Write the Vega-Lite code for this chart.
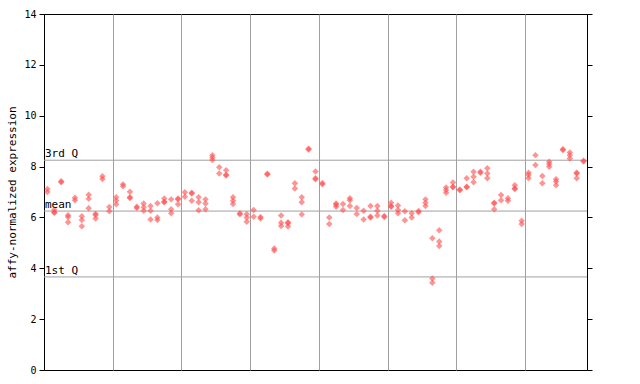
{
  "$schema": "https://vega.github.io/schema/vega-lite/v6.json",
  "width": 543,
  "height": 356,
  "autosize": "none",
  "padding": {"left": 44, "top": 14, "right": 53, "bottom": 14},
  "background": "white",
  "config": {
    "view": {"stroke": "black", "strokeWidth": 1},
    "font": "DejaVu Sans Mono",
    "axis": {"labelFont": "DejaVu Sans Mono", "titleFont": "DejaVu Sans Mono", "labelColor": "black", "titleColor": "black", "domainColor": "black", "tickColor": "black"}
  },
  "datasets": {
    "q": [
      {"label": "3rd Q", "v": 8.25},
      {"label": "mean", "v": 6.25},
      {"label": "1st Q", "v": 3.66}
    ]
  },
  "resolve": {"axis": {"y": "independent"}},
  "layer": [
    {
      "data": {"name": "q"},
      "mark": {"type": "rule", "color": "#a0a0a0", "strokeWidth": 1},
      "encoding": {
        "y": {"field": "v", "type": "quantitative", "scale": {"domain": [0, 14], "nice": false, "zero": false},
          "axis": {"orient": "right", "labels": false, "title": null, "grid": false, "ticks": true, "tickSize": 5, "values": [0, 2, 4, 6, 8, 10, 12, 14], "domain": true}}
      }
    },
    {
      "data": {"values": [
        {"s":0,"v":7.12},{"s":0,"v":7.0},
        {"s":1,"v":6.3},{"s":1,"v":6.18},{"s":1,"v":6.2},
        {"s":2,"v":7.42},{"s":2,"v":7.38},
        {"s":3,"v":6.09},{"s":3,"v":6.02},{"s":3,"v":5.81},
        {"s":4,"v":6.77},{"s":4,"v":6.68},
        {"s":5,"v":6.05},{"s":5,"v":5.9},{"s":5,"v":5.65},
        {"s":6,"v":6.89},{"s":6,"v":6.73},{"s":6,"v":6.36},
        {"s":7,"v":6.14},{"s":7,"v":6.1},{"s":7,"v":5.96},
        {"s":8,"v":7.62},{"s":8,"v":7.51},
        {"s":9,"v":6.41},{"s":9,"v":6.24},
        {"s":10,"v":6.79},{"s":10,"v":6.67},{"s":10,"v":6.52},
        {"s":11,"v":7.3},{"s":11,"v":7.23},
        {"s":12,"v":7.01},{"s":12,"v":6.79},{"s":12,"v":6.76},
        {"s":13,"v":6.42},{"s":13,"v":6.37},
        {"s":14,"v":6.55},{"s":14,"v":6.4},{"s":14,"v":6.26},
        {"s":15,"v":6.45},{"s":15,"v":6.26},{"s":15,"v":5.92},
        {"s":16,"v":6.56},{"s":16,"v":6.0},{"s":16,"v":5.9},
        {"s":17,"v":6.74},{"s":17,"v":6.62},{"s":17,"v":6.6},
        {"s":18,"v":6.71},{"s":18,"v":6.32},{"s":18,"v":6.16},
        {"s":19,"v":6.74},{"s":19,"v":6.71},{"s":19,"v":6.52},
        {"s":20,"v":6.99},{"s":20,"v":6.81},
        {"s":21,"v":6.97},{"s":21,"v":6.94},{"s":21,"v":6.66},
        {"s":22,"v":6.79},{"s":22,"v":6.6},{"s":22,"v":6.28},
        {"s":23,"v":6.71},{"s":23,"v":6.55},{"s":23,"v":6.32},
        {"s":24,"v":8.45},{"s":24,"v":8.36},{"s":24,"v":8.26},
        {"s":25,"v":7.97},{"s":25,"v":7.73},
        {"s":26,"v":7.86},{"s":26,"v":7.68},{"s":26,"v":7.65},
        {"s":27,"v":6.79},{"s":27,"v":6.66},{"s":27,"v":6.53},
        {"s":28,"v":6.16},{"s":28,"v":6.12},
        {"s":29,"v":6.13},{"s":29,"v":6.0},{"s":29,"v":5.83},
        {"s":30,"v":6.29},{"s":30,"v":6.03},
        {"s":31,"v":6.02},{"s":31,"v":5.96},
        {"s":32,"v":7.72},{"s":32,"v":7.69},
        {"s":33,"v":4.78},{"s":33,"v":4.7},
        {"s":34,"v":6.08},{"s":34,"v":5.79},{"s":34,"v":5.66},
        {"s":35,"v":5.81},{"s":35,"v":5.77},{"s":35,"v":5.64},
        {"s":36,"v":7.34},{"s":36,"v":7.14},
        {"s":37,"v":6.79},{"s":37,"v":6.6},{"s":37,"v":6.12},
        {"s":38,"v":8.7},{"s":38,"v":8.67},
        {"s":39,"v":7.81},{"s":39,"v":7.54},{"s":39,"v":7.5},
        {"s":40,"v":7.35},{"s":40,"v":7.3},
        {"s":41,"v":6.0},{"s":41,"v":5.74},
        {"s":42,"v":6.55},{"s":42,"v":6.5},{"s":42,"v":6.42},
        {"s":43,"v":6.53},{"s":43,"v":6.29},
        {"s":44,"v":6.75},{"s":44,"v":6.68},{"s":44,"v":6.45},
        {"s":45,"v":6.37},{"s":45,"v":6.13},
        {"s":46,"v":6.26},{"s":46,"v":5.92},
        {"s":47,"v":6.45},{"s":47,"v":6.03},{"s":47,"v":6.0},
        {"s":48,"v":6.45},{"s":48,"v":6.26},{"s":48,"v":6.08},
        {"s":49,"v":6.06},{"s":49,"v":6.02},
        {"s":50,"v":6.58},{"s":50,"v":6.45},{"s":50,"v":6.42},
        {"s":51,"v":6.47},{"s":51,"v":6.29},{"s":51,"v":6.16},
        {"s":52,"v":6.24},{"s":52,"v":5.89},
        {"s":53,"v":6.16},{"s":53,"v":6.0},
        {"s":54,"v":6.25},{"s":54,"v":6.2},
        {"s":55,"v":6.71},{"s":55,"v":6.58},{"s":55,"v":6.45},
        {"s":56,"v":5.18},{"s":56,"v":3.6},{"s":56,"v":3.43},
        {"s":57,"v":5.5},{"s":57,"v":5.05},{"s":57,"v":4.88},
        {"s":58,"v":7.18},{"s":58,"v":7.08},{"s":58,"v":6.97},
        {"s":59,"v":7.37},{"s":59,"v":7.21},{"s":59,"v":7.19},
        {"s":60,"v":7.1},{"s":60,"v":7.07},
        {"s":61,"v":7.54},{"s":61,"v":7.21},{"s":61,"v":7.19},
        {"s":62,"v":7.8},{"s":62,"v":7.6},{"s":62,"v":7.38},
        {"s":63,"v":7.8},{"s":63,"v":7.76},
        {"s":64,"v":7.93},{"s":64,"v":7.73},{"s":64,"v":7.54},
        {"s":65,"v":6.58},{"s":65,"v":6.55},{"s":65,"v":6.32},
        {"s":66,"v":6.88},{"s":66,"v":6.68},
        {"s":67,"v":6.75},{"s":67,"v":6.66},
        {"s":68,"v":7.27},{"s":68,"v":7.15},{"s":68,"v":7.12},
        {"s":69,"v":5.87},{"s":69,"v":5.74},
        {"s":70,"v":7.76},{"s":70,"v":7.67},{"s":70,"v":7.54},
        {"s":71,"v":8.45},{"s":71,"v":8.06},
        {"s":72,"v":7.63},{"s":72,"v":7.34},
        {"s":73,"v":8.19},{"s":73,"v":8.1},{"s":73,"v":7.99},
        {"s":74,"v":7.5},{"s":74,"v":7.41},{"s":74,"v":7.27},
        {"s":75,"v":8.68},{"s":75,"v":8.65},
        {"s":76,"v":8.55},{"s":76,"v":8.45},{"s":76,"v":8.32},
        {"s":77,"v":7.76},{"s":77,"v":7.73},{"s":77,"v":7.54},
        {"s":78,"v":8.23},{"s":78,"v":8.2}
      ]},
      "mark": {"type": "point", "shape": "diamond", "filled": true, "color": "#ff4d4d", "opacity": 0.6, "size": 42},
      "encoding": {
        "x": {"field": "s", "type": "quantitative", "scale": {"domain": [-0.5, 78.5], "nice": false, "zero": false},
          "axis": {"grid": true, "gridColor": "#a0a0a0", "gridOpacity": 1, "values": [9.5, 19.5, 29.5, 39.5, 49.5, 59.5, 69.5], "labels": false, "ticks": false, "domain": false, "title": null}},
        "y": {"field": "v", "type": "quantitative",
          "axis": {"orient": "left", "grid": false, "values": [0, 2, 4, 6, 8, 10, 12, 14], "tickSize": 5, "labelFontSize": 10, "labelPadding": 3, "title": "affy-normalized expression", "titleFontSize": 11, "titleFontWeight": "normal", "titlePadding": 6}}
      }
    },
    {
      "data": {"name": "q"},
      "mark": {"type": "text", "align": "left", "baseline": "bottom", "dx": 1, "dy": -1, "fontSize": 11, "color": "black", "font": "DejaVu Sans Mono"},
      "encoding": {
        "x": {"datum": -0.5, "type": "quantitative"},
        "y": {"field": "v", "type": "quantitative", "axis": null},
        "text": {"field": "label"}
      }
    }
  ]
}
